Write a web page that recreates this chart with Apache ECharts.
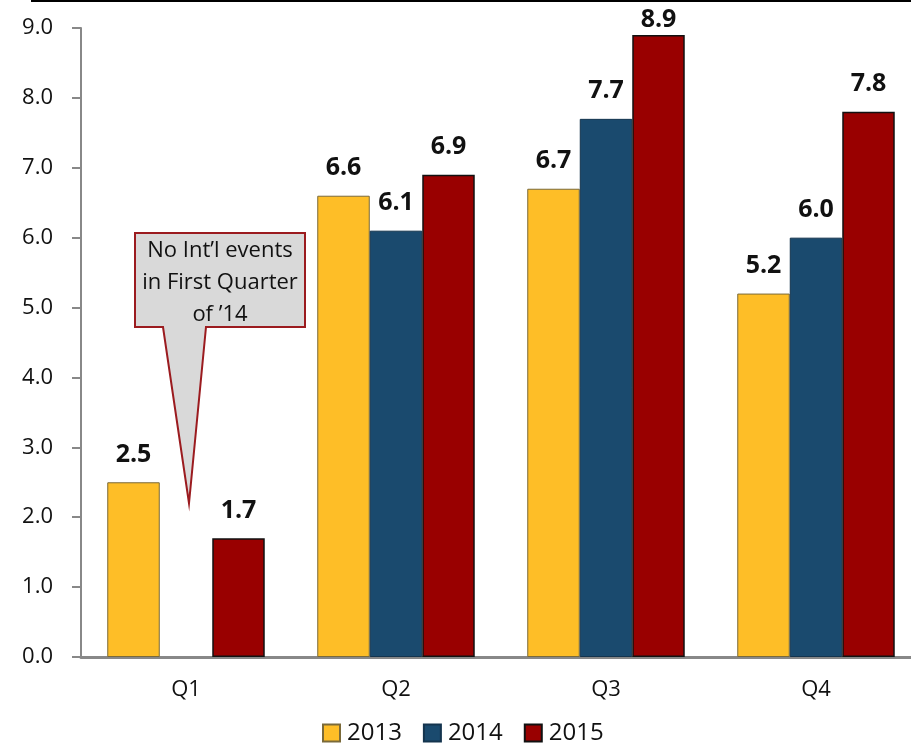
<!DOCTYPE html>
<html>
<head>
<meta charset="utf-8">
<script src="https://cdn.jsdelivr.net/npm/echarts@6/dist/echarts.min.js"></script>
<style>
html,body{margin:0;padding:0;background:#fff}
#main{width:911px;height:747px}
</style>
</head>
<body>
<div id="main"></div>
<script>
var quarters=['Q1','Q2','Q3','Q4']
var years=['2013','2014','2015']
var v2013=[2.5,6.6,6.7,5.2]
var v2014=[null,6.1,7.7,6.0]
var v2015=[1.7,6.9,8.9,7.8]
var colors=['#FEBE27','#1A4A6E','#990000']
var borders=['#7A6A3A','#14344E','#111']
var font='"Open Sans", "Noto Sans", sans-serif'

var mychart=echarts.init(document.getElementById('main'));

function barSeries(name,data,color,border,bw){
	// labels that would run off the top get pulled down, like the original
	var items=data.map(function(v){
		if(v!=null && v>8.5) return {value:v,label:{distance:3}}
		return v
	})
	return {
		name:name,
		type:'bar',
		data:items,
		barGap:'0%',
		barCategoryGap:'25%',
		itemStyle:{color:color,borderColor:border,borderWidth:bw},
		label:{
			show:true,
			position:'top',
			distance:15,
			formatter:function(p){return p.value==null?'':p.value.toFixed(1)},
			fontFamily:font,
			fontWeight:'bold',
			fontSize:25,
			color:'#111'
		}
	}
}

var option={
	animation:false,
	grid:{left:81,top:28,width:840,bottom:90,outerBoundsMode:'none',containLabel:false},
	legend:{
		left:317,
		top:716,
		itemWidth:17,
		itemHeight:17,
		itemGap:21,
		icon:'rect',
		textStyle:{fontFamily:font,fontSize:24,color:'#111',padding:[0,0,0,2]},
		data:years
	},
	xAxis:{
		type:'category',
		data:quarters,
		axisLine:{lineStyle:{color:'#888',width:3}},
		axisTick:{show:false},
		axisLabel:{fontFamily:font,fontSize:22,color:'#111',margin:22}
	},
	yAxis:{
		type:'value',
		min:0,
		max:9,
		interval:1,
		axisLine:{show:true,lineStyle:{color:'#888',width:2}},
		axisTick:{show:true,length:9,lineStyle:{color:'#888',width:2}},
		splitLine:{show:false},
		axisLabel:{fontFamily:font,fontSize:22,color:'#111',margin:28,formatter:function(v){return v.toFixed(1)}}
	},
	series:[
		barSeries(years[0],v2013,colors[0],borders[0],1),
		barSeries(years[1],v2014,colors[1],borders[1],1),
		barSeries(years[2],v2015,colors[2],borders[2],1.5)
	]
};
mychart.setOption(option);

// callout for the missing 2014 Q1 value
var tip=mychart.convertToPixel({gridIndex:0},['Q1',2.2])
var boxL=135,boxT=233,boxR=305,boxB=327
mychart.setOption({
	graphic:[
		{type:'line',shape:{x1:31,y1:1,x2:911,y2:1},style:{stroke:'#000',lineWidth:2}},
		{
			type:'polygon',
			shape:{points:[[boxL,boxT],[boxR,boxT],[boxR,boxB],[206,boxB],[tip[0]+3,tip[1]],[163,boxB],[boxL,boxB]]},
			style:{fill:'#D9D9D9',stroke:'#9B1B1F',lineWidth:2}
		},
		{
			type:'text',
			x:(boxL+boxR)/2,
			y:boxT+2,
			style:{
				text:'No Int\u2019l events\nin First Quarter\nof \u201914',
				fontFamily:font,
				fontSize:22,
				lineHeight:32,
				fill:'#111',
				align:'center',
				verticalAlign:'top'
			}
		}
	]
});
</script>
</body>
</html>
